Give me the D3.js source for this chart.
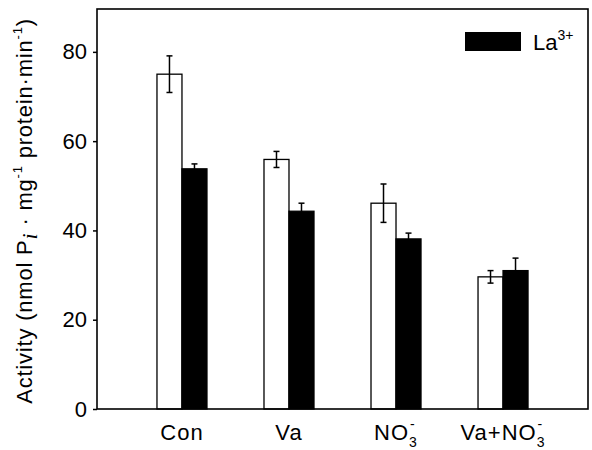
<!DOCTYPE html>
<html>
<head>
<meta charset="utf-8">
<script src="https://cdn.jsdelivr.net/npm/d3@7"></script>
<style>
  body { margin: 0; background: #fff; }
  text { font-family: "Liberation Sans", Arial, sans-serif; fill: #000; }
</style>
</head>
<body>
<div id="chart"></div>
<script>
// categories and values
var groups = ["Con", "Va", "NO3", "Va+NO3"];
var controlVals = [75.0, 55.9, 46.1, 29.6];
var controlErr = [4.1, 1.8, 4.3, 1.4];
var laVals = [53.8, 44.3, 38.1, 31.0];
var laErr = [1.1, 1.8, 1.3, 2.8];
var yTicks = [0, 20, 40, 60, 80];

var width = 592, height = 450;
var margin = { top: 9, right: 4, bottom: 41, left: 97 };

var svg = d3.select("#chart")
    .append("svg")
    .attr("width", width)
    .attr("height", height);

var x = d3.scaleBand()
    .domain(groups)
    .range([margin.left, width - margin.right])
    .paddingInner(0)
    .paddingOuter(0.294);

var y = d3.scaleLinear()
    .domain([0, 89.6])
    .range([height - margin.bottom, margin.top]);

var barW = 25;

var data = groups.map(function(g, i) {
    return { group: g, c: controlVals[i], ce: controlErr[i], la: laVals[i], le: laErr[i] };
});

// bars
var bars = svg.append("g");
bars.selectAll("rect.ctl")
    .data(data)
    .enter().append("rect")
    .attr("class", "ctl")
    .attr("x", function(d) { return x(d.group) + x.bandwidth() / 2 - barW; })
    .attr("y", function(d) { return y(d.c); })
    .attr("width", barW)
    .attr("height", function(d) { return y(0) - y(d.c); })
    .attr("fill", "#fff")
    .attr("stroke", "#000")
    .attr("stroke-width", 1.3);

bars.selectAll("rect.la")
    .data(data)
    .enter().append("rect")
    .attr("class", "la")
    .attr("x", function(d) { return x(d.group) + x.bandwidth() / 2; })
    .attr("y", function(d) { return y(d.la); })
    .attr("width", barW)
    .attr("height", function(d) { return y(0) - y(d.la); })
    .attr("fill", "#000")
    .attr("stroke", "#000")
    .attr("stroke-width", 1.3);

// error bars
function errorBars(cls, cx, val, err) {
    var g = svg.append("g").attr("stroke", "#000").attr("stroke-width", 1.5);
    g.selectAll("line.v" + cls)
        .data(data).enter().append("line")
        .attr("x1", cx).attr("x2", cx)
        .attr("y1", function(d) { return y(val(d) - err(d)); })
        .attr("y2", function(d) { return y(val(d) + err(d)); });
    [1, -1].forEach(function(s) {
        g.selectAll("line.c" + cls + s)
            .data(data).enter().append("line")
            .attr("x1", function(d) { return cx(d) - 3; })
            .attr("x2", function(d) { return cx(d) + 3; })
            .attr("y1", function(d) { return y(val(d) + s * err(d)); })
            .attr("y2", function(d) { return y(val(d) + s * err(d)); });
    });
}
errorBars("c", function(d) { return x(d.group) + x.bandwidth() / 2 - barW / 2; },
    function(d) { return d.c; }, function(d) { return d.ce; });
errorBars("l", function(d) { return x(d.group) + x.bandwidth() / 2 + barW / 2; },
    function(d) { return d.la; }, function(d) { return d.le; });

// frame
svg.append("rect")
    .attr("x", margin.left)
    .attr("y", margin.top)
    .attr("width", width - margin.left - margin.right)
    .attr("height", height - margin.top - margin.bottom)
    .attr("fill", "none")
    .attr("stroke", "#000")
    .attr("stroke-width", 1.6);

// y axis
var yAxis = svg.append("g")
    .attr("transform", "translate(" + margin.left + ",0)")
    .call(d3.axisLeft(y).tickValues(yTicks).tickSize(4).tickPadding(6).tickSizeOuter(0));
yAxis.select(".domain").remove();
yAxis.selectAll("line").attr("stroke-width", 1.5);
yAxis.selectAll("text")
    .style("font-family", "Liberation Sans, Arial, sans-serif")
    .style("font-size", "22px");

// x labels
var xl = svg.append("g");
xl.selectAll("text")
    .data(groups)
    .enter().append("text")
    .attr("x", function(d) { return x(d) + x.bandwidth() / 2; })
    .attr("y", 440)
    .attr("text-anchor", "middle")
    .style("font-size", "22px")
    .style("letter-spacing", "1px")
    .each(function(d) {
        var t = d3.select(this);
        if (d.indexOf("NO3") >= 0) {
            t.append("tspan").text(d.replace("NO3", "NO"));
            t.append("tspan").text("3").attr("dy", 7).style("font-size", "14px");
            t.append("tspan").text("-").attr("dx", -8).attr("dy", -18).style("font-size", "14px");
        } else {
            t.text(d);
        }
    });

// y title
var yt = svg.append("text")
    .attr("transform", "translate(32," + 211 + ") rotate(-90)")
    .attr("text-anchor", "middle")
    .style("font-size", "22px")
    .style("letter-spacing", "0.8px");
yt.append("tspan").text("Activity (nmol P");
yt.append("tspan").text("i").attr("dy", 5).style("font-style", "italic").style("font-family", "Liberation Serif, serif");
yt.append("tspan").text(" \u00b7 mg").attr("dy", -5);
yt.append("tspan").text("-1").attr("dy", -10).style("font-size", "13px");
yt.append("tspan").text("  protein\u00b7min").attr("dy", 10);
yt.append("tspan").text("-1").attr("dy", -10).style("font-size", "13px");
yt.append("tspan").text(")").attr("dy", 10);

// legend
svg.append("rect")
    .attr("x", 465).attr("y", 32)
    .attr("width", 56).attr("height", 19)
    .attr("fill", "#000");
var lt = svg.append("text")
    .attr("x", 533).attr("y", 50)
    .style("font-size", "22px");
lt.append("tspan").text("La");
lt.append("tspan").text("3+").attr("dy", -10).style("font-size", "14px");
</script>
</body>
</html>
